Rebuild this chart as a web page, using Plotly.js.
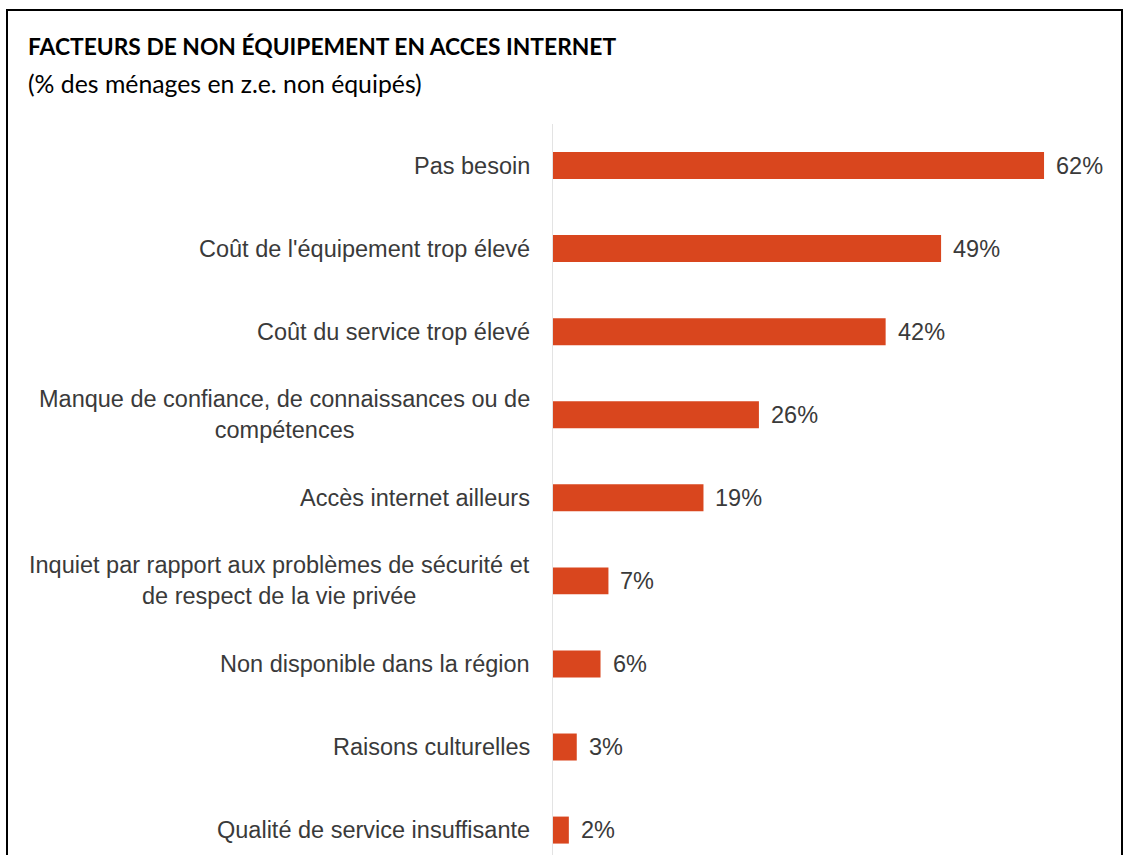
<!DOCTYPE html>
<html>
<head>
<meta charset="utf-8">
<script src="https://cdn.plot.ly/plotly-3.0.1.min.js"></script>
<style>
  html, body { margin: 0; padding: 0; background: #ffffff; }
  #chart { width: 1123px; height: 855px; }
  #frame { position: absolute; left: 6px; top: 9px; width: 1113px; height: 860px;
           border-left: 2px solid #000; border-top: 2px solid #000; border-right: 2px solid #000;
           pointer-events: none; }
</style>
</head>
<body>
<div id="chart"></div>
<div id="frame"></div>
<script>
const chartTitle = "FACTEURS DE NON ÉQUIPEMENT EN ACCES INTERNET";
const chartSubtitle = "(% des ménages en z.e. non équipés)";
const categories = [
  "Pas besoin",
  "Coût de l'équipement trop élevé",
  "Coût du service trop élevé",
  "Manque de confiance, de connaissances ou de<br>compétences",
  "Accès internet ailleurs",
  "Inquiet par rapport aux problèmes de sécurité et<br>de respect de la vie privée",
  "Non disponible dans la région",
  "Raisons culturelles",
  "Qualité de service insuffisante"
];
const values = [62, 49, 42, 26, 19, 7, 6, 3, 2];
const valueLabels = values.map(v => v + "%");

const W = 1123, H = 855;
const M = {l: 553, r: 0, t: 123.5, b: 0};
const plotW = W - M.l - M.r, plotH = H - M.t - M.b;
const px2paperX = px => (px - M.l) / plotW;
const px2paperY = py => (H - M.b - py) / plotH;

const labelFont = {family: "Liberation Sans, Arial, sans-serif", size: 23.5, color: "#3a3a3a"};

const annotations = [];
categories.forEach((c, i) => {
  annotations.push({
    x: 0, xref: "x", y: i, yref: "y", text: c,
    xanchor: "right", yanchor: "middle", align: "center",
    xshift: -21, showarrow: false, font: labelFont
  });
  annotations.push({
    x: values[i], xref: "x", y: i, yref: "y", text: valueLabels[i],
    xanchor: "left", yanchor: "middle", xshift: 10, showarrow: false,
    font: labelFont
  });
});
annotations.push({
  x: px2paperX(26), xref: "paper", y: px2paperY(45), yref: "paper",
  xanchor: "left", yanchor: "middle", showarrow: false,
  text: "<b>" + chartTitle + "</b>",
  font: {family: "Lato, Liberation Sans, sans-serif", size: 22.8, color: "#000"}
});
annotations.push({
  x: px2paperX(26), xref: "paper", y: px2paperY(83), yref: "paper",
  xanchor: "left", yanchor: "middle", showarrow: false,
  text: chartSubtitle,
  font: {family: "Lato, Liberation Sans, sans-serif", size: 24.8, color: "#000"}
});

const trace = {
  type: "bar", orientation: "h",
  x: values, y: categories,
  marker: {color: "#D9461E"},
  hoverinfo: "none"
};

const layout = {
  width: W, height: H,
  margin: M,
  paper_bgcolor: "#ffffff", plot_bgcolor: "#ffffff",
  showlegend: false,
  bargap: 0.675,
  xaxis: {range: [0, plotW / 7.92], showgrid: false, zeroline: false, showticklabels: false, showline: false, fixedrange: true},
  yaxis: {type: "category", range: [8.3, -0.5], showticklabels: false, showgrid: false, zeroline: false,
          showline: true, linecolor: "#e3e3e3", linewidth: 1.5, ticks: "", fixedrange: true},
  annotations: annotations
};

Plotly.newPlot("chart", [trace], layout, {displayModeBar: false, staticPlot: true});
</script>
</body>
</html>
